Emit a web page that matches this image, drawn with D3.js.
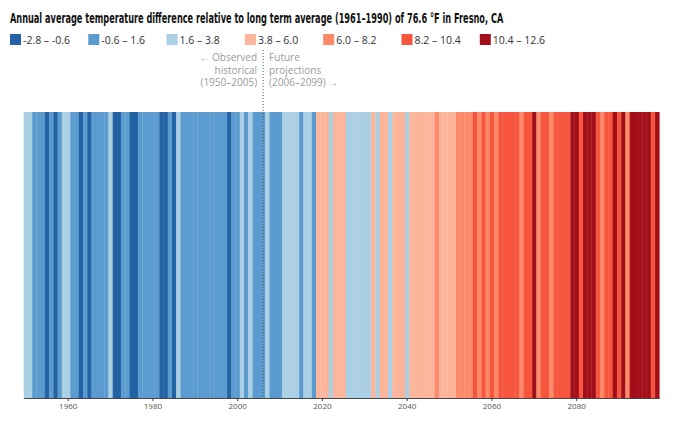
<!DOCTYPE html>
<html>
<head>
<meta charset="utf-8">
<script src="https://cdn.jsdelivr.net/npm/d3@7"></script>
<style>
  body { margin: 0; background: #fff; }
  svg { display: block; }
</style>
</head>
<body>
<script>
// annual temperature difference (°F) vs 1961-1990 average, Fresno CA
const years = d3.range(1950, 2100);
const diffs = [
  2.1, 1.9, 0.8, 0.3, 1.1, -1.4, 0.6, -0.9, 1.2, 2.3,
  1.8, 0.9, 0.2, -1.1, 0.4, -1.6, 0.7, 0.1, 1.0, 0.3,
  1.7, -1.3, -0.8, 0.5, 0.9, -1.5, -0.7, 0.6, 0.2, 1.3,
  0.8, 1.4, -1.0, -0.9, 0.4, -1.2, 1.9, 1.1, 1.3, 0.7,
  0.9, 0.5, 1.2, 0.8, 0.6, 1.0, 1.4, 0.9, -0.8, 0.3,
  1.2, 2.0, 1.3, 1.8, 1.1, 0.8, 1.4, 2.2, 1.0, 0.6,
  0.4, 2.5, 3.1, 2.8, 3.4, 1.5, 2.6, 3.0, 1.2, 4.3,
  4.8, 4.1, 3.5, 4.6, 5.2, 4.0, 3.3, 2.9, 3.6, 2.7,
  3.2, 3.7, 5.0, 3.4, 4.7, 5.5, 3.6, 4.4, 5.1, 4.2,
  3.7, 5.3, 4.9, 5.6, 4.5, 5.8, 5.0, 6.4, 5.4, 5.7,
  4.9, 5.9, 6.5, 7.1, 6.8, 7.6, 8.6, 7.4, 8.9, 7.9,
  9.1, 7.7, 8.4, 9.6, 8.8, 9.2, 10.0, 8.0, 9.4, 9.9,
  10.9, 7.8, 9.0, 9.7, 8.1, 8.7, 9.5, 10.2, 9.3, 10.6,
  11.3, 9.8, 11.0, 10.8, 11.6, 10.1, 8.0, 9.6, 10.3, 11.4,
  9.9, 10.7, 8.0, 11.8, 10.9, 12.1, 11.2, 11.5, 10.2, 12.4
];

const binEdges = [-0.6, 1.6, 3.8, 6.0, 8.2, 10.4];
const binLabels = ['-2.8 – -0.6', '-0.6 – 1.6', '1.6 – 3.8', '3.8 – 6.0', '6.0 – 8.2', '8.2 – 10.4', '10.4 – 12.6'];
const binColors = ['#2363a4', '#5b9bd0', '#abcfe3', '#fcb49a', '#fc8a6a', '#f6553e', '#a20f18'];
const tickYears = [1960, 1980, 2000, 2020, 2040, 2060, 2080];
const splitYear = 2006;

const width = 680;
const height = 421;

const svg = d3.select('body')
  .append('svg')
  .attr('width', width)
  .attr('height', height);

const x = d3.scaleBand()
  .domain(years)
  .range([23.7, 659.3])
  .padding(0);

const stripeTop = 112, stripeBottom = 398;

const color = d3.scaleThreshold()
  .domain(binEdges)
  .range(binColors);

// title, squeezed horizontally to look like the condensed original
const title = svg.append('text')
  .style('font-family', '"Liberation Sans Narrow", "DejaVu Sans Condensed", sans-serif')
  .style('font-weight', 'bold')
  .style('font-size', '14px')
  .attr('fill', '#111')
  .text('Annual average temperature difference relative to long term average (1961–1990) of 76.6 °F in Fresno, CA');

const titleW = title.node().getComputedTextLength();
title.attr('transform', `translate(10, 23) scale(${494 / titleW}, 1)`);

// legend
const legend = svg.append('g')
  .attr('transform', 'translate(10, 34)');

const item = legend.selectAll('g')
  .data(binLabels)
  .enter()
    .append('g')
    .attr('transform', (d, i) => `translate(${i * 78.3}, 0)`);

item.append('rect')
  .attr('width', 11)
  .attr('height', 11)
  .attr('fill', (d, i) => binColors[i]);

item.append('text')
  .attr('x', 13)
  .attr('y', 9.5)
  .style('font-family', '"Open Sans", sans-serif')
  .style('font-size', '10.5px')
  .attr('fill', '#333')
  .text(d => d);

// stripes
svg.append('g')
  .selectAll('rect')
  .data(years)
  .enter()
    .append('rect')
    .attr('x', d => x(d))
    .attr('y', stripeTop)
    .attr('width', x.bandwidth() + 0.3)
    .attr('height', stripeBottom - stripeTop)
    .attr('fill', (d, i) => color(diffs[i]));

// axis
const axis = d3.axisBottom(x)
  .tickValues(tickYears)
  .tickSize(3)
  .tickSizeOuter(0);

const ax = svg.append('g')
  .attr('transform', `translate(0, ${stripeBottom})`)
  .call(axis);

ax.select('.domain').attr('stroke', '#444');
ax.selectAll('.tick line').attr('stroke', '#444');
ax.selectAll('.tick text')
  .attr('y', 5)
  .style('font-family', '"Open Sans", sans-serif')
  .style('font-size', '8px')
  .attr('fill', '#555');

// split between observed and projected
const splitX = x(splitYear) + x.bandwidth() / 2;

svg.append('line')
  .attr('x1', splitX)
  .attr('x2', splitX)
  .attr('y1', 50)
  .attr('y2', stripeBottom)
  .attr('stroke', '#555')
  .attr('stroke-width', 1)
  .attr('stroke-dasharray', '1,2');

const note = svg.append('g')
  .style('font-family', '"Open Sans", sans-serif')
  .style('font-size', '10px')
  .attr('fill', '#9a9a9a');

const leftLines = ['← Observed', 'historical', '(1950–2005)'];
const rightLines = ['Future', 'projections', '(2006–2099) →'];

note.selectAll('text.l')
  .data(leftLines)
  .enter()
    .append('text')
    .attr('class', 'l')
    .attr('x', splitX - 6)
    .attr('y', (d, i) => 61 + i * 12.5)
    .attr('text-anchor', 'end')
    .text(d => d);

note.selectAll('text.r')
  .data(rightLines)
  .enter()
    .append('text')
    .attr('class', 'r')
    .attr('x', splitX + 6)
    .attr('y', (d, i) => 61 + i * 12.5)
    .text(d => d);
</script>
</body>
</html>
